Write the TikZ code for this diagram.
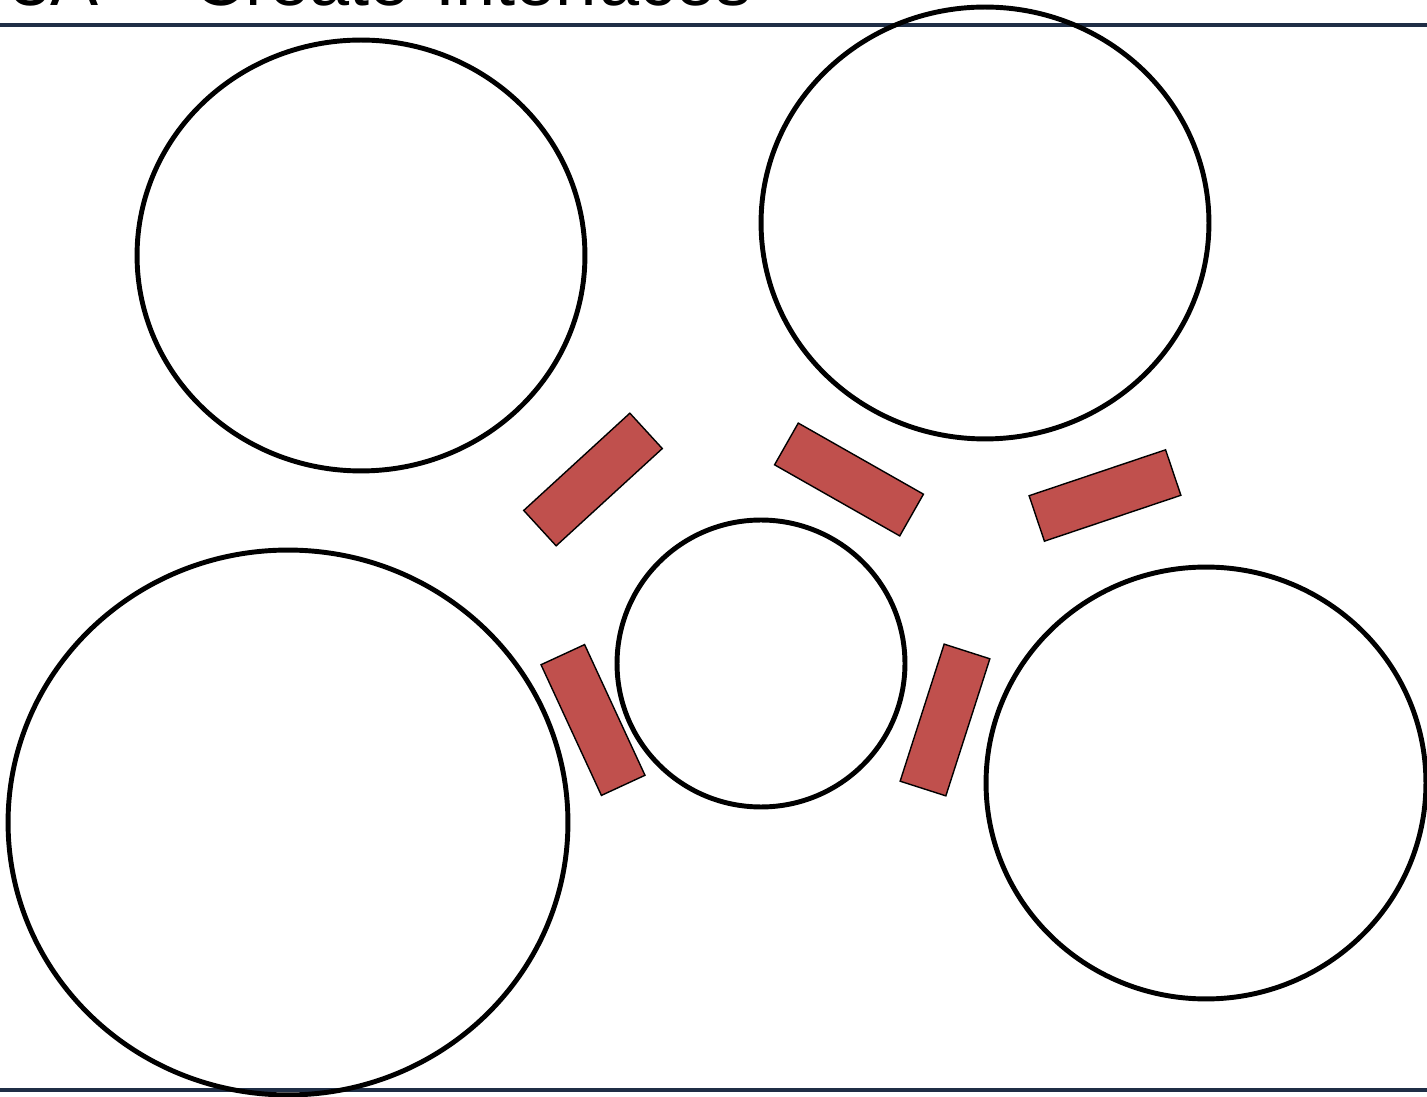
\documentclass[tikz,border=0pt]{standalone}
\usepackage{fontspec}
\setmainfont{Liberation Sans}
\definecolor{ifred}{RGB}{192,80,77}
\definecolor{ifnavy}{RGB}{31,46,70}
\usetikzlibrary{shapes.geometric}

\begin{document}
\begin{tikzpicture}[x=0.02cm, y=-0.02cm,
  zone/.style={draw=black, line width=2.8pt, ellipse, inner sep=0pt},
  iface/.style={draw=black, fill=ifred, line width=0.8pt, rectangle, inner sep=0pt, minimum width=2.88cm, minimum height=0.96cm},
  rulebar/.style={draw=ifnavy, line width=2.7pt}]
  \useasboundingbox (0,0) rectangle (1427,1097);
  % title, cut by the page top
  \node[anchor=base west, inner sep=0pt, font=\fontsize{41}{48}\selectfont] (title) at (10,6) {3A\hspace{0.38em}--\hspace{0.38em}Create\hspace{0.36em}Interfaces};
  \coordinate (topL) at (0,25);
  \coordinate (topR) at (1427,25);
  \coordinate (botL) at (0,1090);
  \coordinate (botR) at (1427,1090);
  \draw[rulebar] (topL) -- (topR);
  \draw[rulebar] (botL) -- (botR);
  % zones
  \node[zone, minimum width=8.96cm, minimum height=8.62cm] (zoneTL) at (361,255.5) {};
  \node[zone, minimum width=8.96cm, minimum height=8.64cm] (zoneTR) at (985,223) {};
  \node[zone, minimum width=5.76cm, minimum height=5.74cm] (hub) at (761,663.5) {};
  \node[zone, minimum width=11.2cm, minimum height=10.9cm] (zoneBL) at (288,822.5) {};
  \node[zone, minimum width=8.8cm, minimum height=8.64cm] (zoneBR) at (1206,783) {};
  % interfaces
  \node[iface, rotate=42.5] (ifA) at (593,479.5) {};
  \node[iface, rotate=-29.6] (ifB) at (849,479.5) {};
  \node[iface, rotate=18.6] (ifC) at (1105,495.5) {};
  \node[iface, rotate=-65.2] (ifD) at (593,720) {};
  \node[iface, rotate=72.2] (ifE) at (945,720) {};
\end{tikzpicture}
\end{document}
